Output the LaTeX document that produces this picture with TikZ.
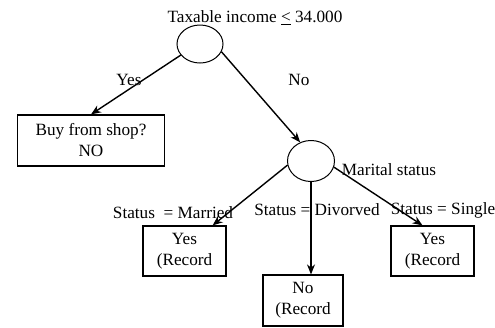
\documentclass[tikz,border=0pt]{standalone}
\usepackage{fontspec}
\setmainfont{Liberation Serif}
\usetikzlibrary{shapes.geometric,arrows.meta}
\begin{document}
\begin{tikzpicture}[x=1pt,y=-1pt,
  lbl/.style={font=\fontsize{17.2}{20}\selectfont, inner sep=0pt},
  leaf/.style={draw, line width=1.2pt, font=\fontsize{17.2}{21}\selectfont, align=center, inner sep=0pt},
  test/.style={draw, ellipse, line width=1pt, inner sep=0pt},
  edge/.style={line width=1.4pt, -{Stealth[length=10pt,width=8pt]}}]
\useasboundingbox (0,0) rectangle (495,327);
% test nodes
\node[test, minimum width=46pt, minimum height=38pt] (root) at (200,44) {};
\node[test, minimum width=47pt, minimum height=41pt] (ms) at (311,161) {};
% leaves
\node[leaf, minimum width=147pt, minimum height=51pt] (buy) at (91,140.5) {Buy from shop?\\NO};
\node[leaf, minimum width=83pt, minimum height=50pt] (yes1) at (184.5,251) {Yes\\(Record};
\node[leaf, minimum width=80pt, minimum height=51pt] (no1) at (303,300.5) {No\\(Record};
\node[leaf, minimum width=83pt, minimum height=50pt] (yes2) at (432.5,251) {Yes\\(Record};
% labels
\node[lbl] (title) at (255,18) {Taxable income \underline{<} 34.000};
\node[lbl] (yeslbl) at (129,80) {Yes};
\node[lbl] (nolbl) at (299,80) {No};
\node[lbl] (marital) at (389,170) {Marital status};
\node[lbl] (married) at (173,213) {Status\ \ = Married};
\node[lbl] (divorced) at (317,210) {Status = Divorved};
\node[lbl] (single) at (443,210) {Status = Single};
% edges
\draw[edge] (root.210) -- (buy.north);
\draw[edge] (root.-20) -- (ms.120);
\draw[edge] (ms.190) -- ([xshift=-14pt]yes1.north east);
\draw[edge] (ms.south) -- (ms.south |- no1.north);
\draw[edge] (ms.-15) -- ([xshift=-10pt]yes2.north);
\end{tikzpicture}
\end{document}
